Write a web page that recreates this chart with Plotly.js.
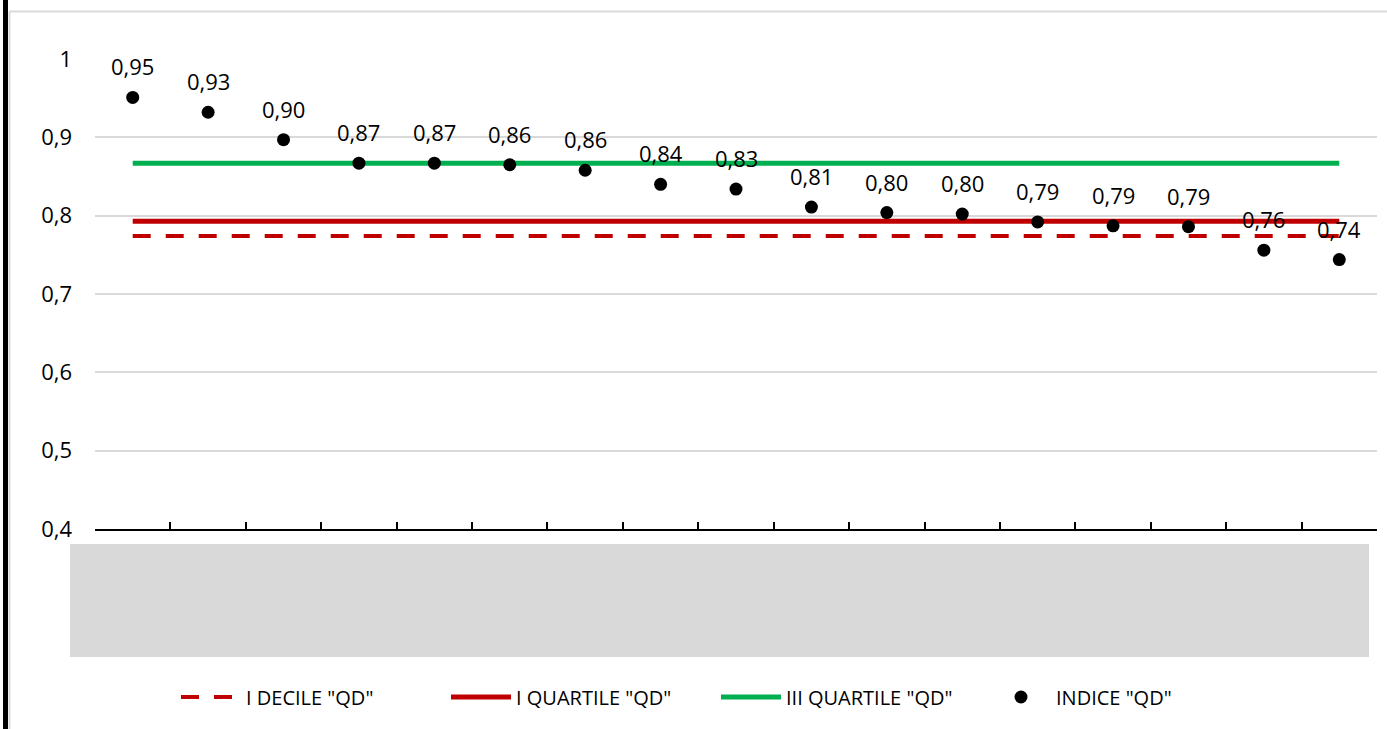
<!DOCTYPE html>
<html>
<head>
<meta charset="utf-8">
<script src="https://cdn.plot.ly/plotly-3.0.1.min.js"></script>
<style>html,body{margin:0;padding:0;background:#fff;}#chart{width:1387px;height:729px;}</style>
</head>
<body>
<div id="chart"></div>
<script>
// ---- data ----
const categories = [1,2,3,4,5,6,7,8,9,10,11,12,13,14,15,16,17];
const indiceQD = [0.951,0.932,0.897,0.867,0.867,0.865,0.858,0.840,0.834,0.811,0.804,0.802,0.792,0.787,0.786,0.756,0.744];
const decileI = 0.774;
const quartileI = 0.793;
const quartileIII = 0.867;
const seriesNames = ['I DECILE "QD"','I QUARTILE "QD"','III QUARTILE "QD"','INDICE "QD"'];
const yTicks = [0.4,0.5,0.6,0.7,0.8,0.9,1];

const fontFam = '"Open Sans", Lato, sans-serif';
const flat = v => categories.map(() => v);
const fmt = v => v.toFixed(2).replace('.', ',');

// pixel helpers for paper coords (plot area: x 95..1377, y 59..529)
const L = 95, R = 1377, T = 59, B = 529;
const px = x => (x - L) / (R - L);
const py = y => (B - y) / (B - T);

const traces = [
  {x: categories, y: flat(decileI), name: seriesNames[0], mode: 'lines', type: 'scatter',
   line: {color: '#C00000', width: 4, dash: '18px,15px'}, hoverinfo: 'skip'},
  {x: categories, y: flat(quartileI), name: seriesNames[1], mode: 'lines', type: 'scatter',
   line: {color: '#C00000', width: 5}, hoverinfo: 'skip'},
  {x: categories, y: flat(quartileIII), name: seriesNames[2], mode: 'lines', type: 'scatter',
   line: {color: '#00B050', width: 5}, hoverinfo: 'skip'},
  {x: categories, y: indiceQD, name: seriesNames[3], mode: 'markers', type: 'scatter',
   marker: {color: '#000000', size: 13}, cliponaxis: false}
];

const annotations = categories.map((c, i) => ({
  x: c, y: indiceQD[i], xref: 'x', yref: 'y', text: fmt(indiceQD[i]),
  showarrow: false, yanchor: 'middle', xanchor: 'center', yshift: 31,
  font: {family: fontFam, size: 22, color: '#000'}
}));

const tickBounds = [];
for (let i = 0; i <= categories.length; i++) tickBounds.push(categories[0] - 0.5 + i);

const layout = {
  width: 1387, height: 729,
  margin: {l: L, r: 1387 - R, t: T, b: 729 - B, pad: 0},
  paper_bgcolor: '#ffffff', plot_bgcolor: '#ffffff',
  font: {family: fontFam, size: 20, color: '#000'},
  showlegend: true,
  legend: {orientation: 'h', x: px(716), xanchor: 'center', y: py(697), yanchor: 'middle',
           font: {family: fontFam, size: 20, color: '#000'}, itemwidth: 60, traceorder: 'normal',
           entrywidth: 195, entrywidthmode: 'pixels'},
  xaxis: {range: [0.5, categories.length + 0.5], tickmode: 'array', tickvals: tickBounds,
          showticklabels: false, ticks: 'inside', ticklen: 7, tickwidth: 2, tickcolor: '#000',
          showline: true, linecolor: '#000', linewidth: 2, showgrid: false, zeroline: false, fixedrange: true},
  yaxis: {range: [0.4, 1.0], tickmode: 'array', tickvals: yTicks,
          ticktext: yTicks.map(v => String(v).replace('.', ',')),
          ticks: '', ticklabelstandoff: 22, showgrid: true, gridcolor: '#d9d9d9', gridwidth: 2,
          zeroline: false, showline: false, tickfont: {family: fontFam, size: 22, color: '#000'}, fixedrange: true},
  annotations: annotations,
  shapes: [
    // gray category-label band
    {type: 'rect', xref: 'paper', yref: 'paper', x0: px(70), x1: px(1369), y0: py(657), y1: py(544),
     fillcolor: '#d9d9d9', line: {width: 0}, layer: 'below'},
    // left black bar
    {type: 'rect', xref: 'paper', yref: 'paper', x0: px(3), x1: px(8), y0: py(729), y1: py(0),
     fillcolor: '#000', line: {width: 0}, layer: 'above'},
    // chart border (light gray)
    {type: 'line', xref: 'paper', yref: 'paper', x0: px(9.5), x1: px(1387), y0: py(11.5), y1: py(11.5),
     line: {color: '#d9d9d9', width: 2}},
    {type: 'line', xref: 'paper', yref: 'paper', x0: px(9.5), x1: px(9.5), y0: py(729), y1: py(11.5),
     line: {color: '#d9d9d9', width: 2}}
  ]
};

Plotly.newPlot('chart', traces, layout, {displayModeBar: false, staticPlot: true});
</script>
</body>
</html>
